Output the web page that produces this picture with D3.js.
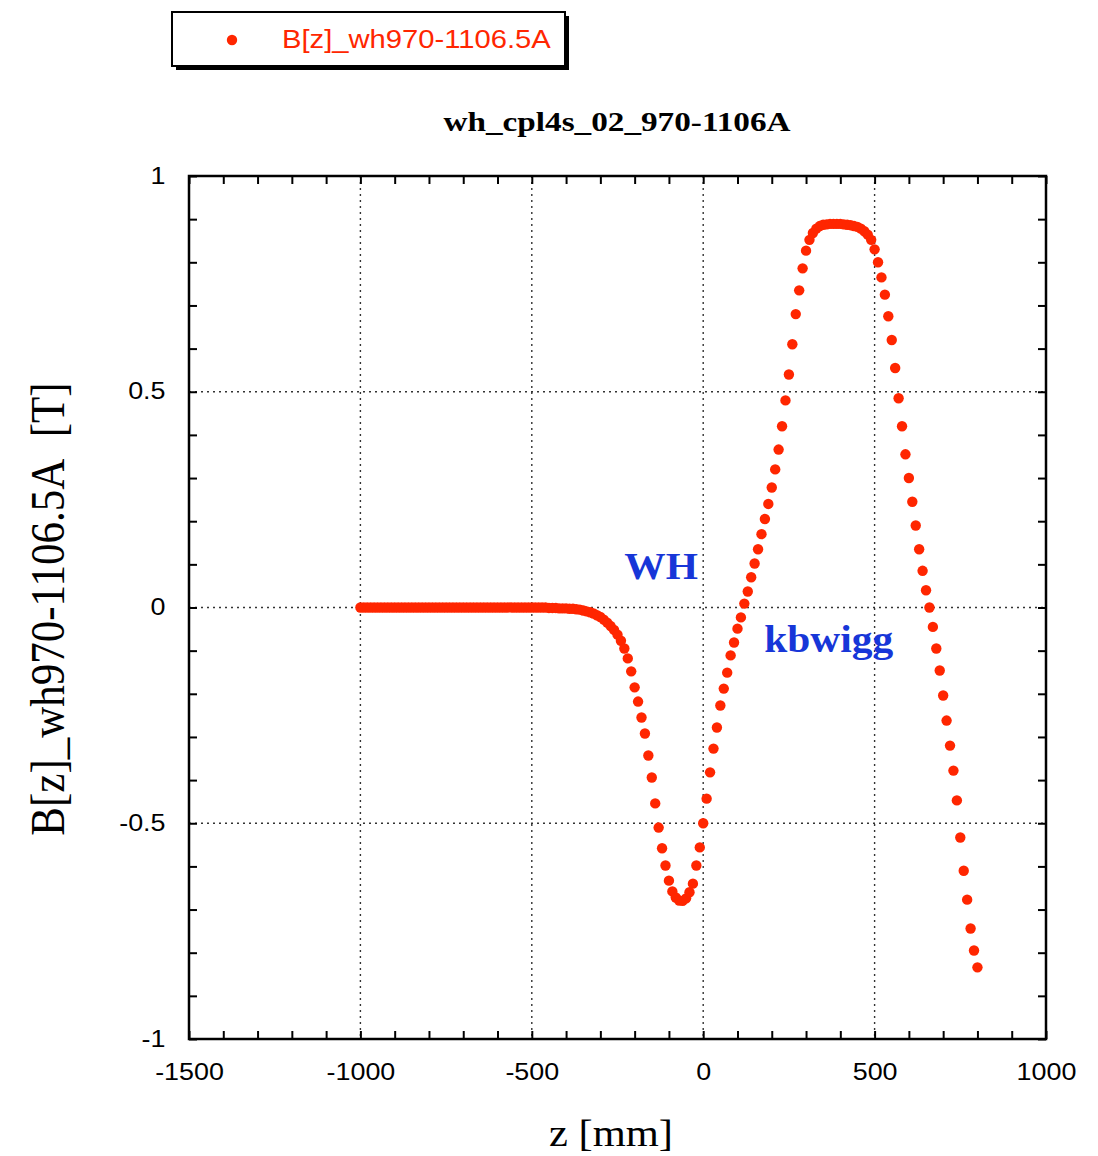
<!DOCTYPE html>
<html lang="en">
  <head>
    <meta charset="utf-8" />
    <title>wh_cpl4s_02_970-1106A</title>
    <script src="https://d3js.org/d3.v7.min.js"></script>
    <style>
      body { margin: 0; background: #fff; }
      svg { display: block; }
    </style>
  </head>
  <body>
    <div id="graph-display"></div>
    <script>
      // z positions [mm] of the measured points
      const zValues = [
        -1000, -990, -980, -970, -960, -950, -940, -930, -920, -910,
        -900, -890, -880, -870, -860, -850, -840, -830, -820, -810,
        -800, -790, -780, -770, -760, -750, -740, -730, -720, -710,
        -700, -690, -680, -670, -660, -650, -640, -630, -620, -610,
        -600, -590, -580, -570, -560, -550, -540, -530, -520, -510,
        -500, -490, -480, -470, -460, -450, -440, -430, -420, -410,
        -400, -390, -380, -370, -360, -350, -340, -330, -320, -310,
        -300, -290, -280, -270, -260, -250, -240, -230, -220, -210,
        -200, -190, -180, -170, -160, -150, -140, -130, -120, -110,
        -100, -90, -80, -70, -60, -50, -40, -30, -20, -10,
        0, 10, 20, 30, 40, 50, 60, 70, 80, 90,
        100, 110, 120, 130, 140, 150, 160, 170, 180, 190,
        200, 210, 220, 230, 240, 250, 260, 270, 280, 290,
        300, 310, 320, 330, 340, 350, 360, 370, 380, 390,
        400, 410, 420, 430, 440, 450, 460, 470, 480, 490,
        500, 510, 520, 530, 540, 550, 560, 570, 580, 590,
        600, 610, 620, 630, 640, 650, 660, 670, 680, 690,
        700, 710, 720, 730, 740, 750, 760, 770, 780, 790,
        800
      ];
      // B[z] [T]
      const bValues = [
        0, 0, 0, 0, 0, 0, 0, 0, 0, 0,
        0, 0, 0, 0, 0, 0, 0, 0, 0, 0,
        0, 0, 0, 0, 0, 0, 0, 0, 0, 0,
        0, 0, 0, 0, 0, 0, 0, 0, 0, 0,
        0, 0, 0, 0, 0, 0, 0, 0, 0, 0,
        0, 0, 0, 0, 0, -0.001, -0.001, -0.001, -0.002, -0.002,
        -0.002, -0.003, -0.003, -0.004, -0.005, -0.007, -0.009, -0.011, -0.014, -0.018,
        -0.022, -0.028, -0.035, -0.043, -0.052, -0.063, -0.077, -0.095, -0.118, -0.148,
        -0.185, -0.218, -0.255, -0.292, -0.343, -0.394, -0.454, -0.51, -0.558, -0.598,
        -0.633, -0.658, -0.672, -0.679, -0.68, -0.674, -0.66, -0.64, -0.598, -0.556,
        -0.5, -0.443, -0.382, -0.327, -0.278, -0.227, -0.188, -0.151, -0.111, -0.081,
        -0.049, -0.023, 0.009, 0.037, 0.07, 0.102, 0.135, 0.17, 0.205, 0.24,
        0.278, 0.32, 0.366, 0.42, 0.48, 0.54, 0.61, 0.68, 0.735, 0.786,
        0.827, 0.852, 0.868, 0.878, 0.884, 0.887, 0.888, 0.889, 0.889, 0.889,
        0.889, 0.888, 0.887, 0.886, 0.884, 0.882, 0.878, 0.872, 0.864, 0.852,
        0.83, 0.8, 0.765, 0.725, 0.675, 0.62, 0.555, 0.485, 0.42, 0.355,
        0.3, 0.245, 0.19, 0.135, 0.085, 0.04, 0, -0.045, -0.095, -0.146,
        -0.204, -0.262, -0.32, -0.378, -0.447, -0.533, -0.61, -0.677, -0.744, -0.795,
        -0.834
      ];
      const xMajorTicks = [-1500, -1000, -500, 0, 500, 1000];
      const xMinorTicks = [-1400, -1300, -1200, -1100, -900, -800, -700, -600, -400, -300, -200, -100,
                           100, 200, 300, 400, 600, 700, 800, 900];
      const yMajorTicks = [-1, -0.5, 0, 0.5, 1];
      const yMinorTicks = [-0.9, -0.8, -0.7, -0.6, -0.4, -0.3, -0.2, -0.1,
                           0.1, 0.2, 0.3, 0.4, 0.6, 0.7, 0.8, 0.9];
      const xGrid = [-1000, -500, 0, 500];
      const yGrid = [-0.5, 0, 0.5];

      const seriesName = "B[z]_wh970-1106.5A";
      const titleText = "wh_cpl4s_02_970-1106A";
      const xLabel = "z [mm]";
      const yLabel = "B[z]_wh970-1106.5A\u00a0\u00a0[T]";
      const notes = [["WH", -230, 0.065], ["kbwigg", 178, -0.103]];

      const width = 1098, height = 1156;
      const plotL = 189, plotR = 1046, plotT = 176, plotB = 1039;
      const stretch = 1.12; // picture is wider than tall
      const red = "#ff2600", blue = "#1736d8";

      const svg = d3.select("#graph-display").append("svg")
        .attr("width", width).attr("height", height);
      svg.append("rect").attr("width", width).attr("height", height).attr("fill", "#fff");

      const x = d3.scaleLinear().domain([-1500, 1000]).range([plotL, plotR]);
      const y = d3.scaleLinear().domain([-1, 1]).range([plotB, plotT]);

      // grid
      svg.append("g").selectAll("line").data(xGrid).join("line")
        .attr("x1", d => x(d)).attr("x2", d => x(d)).attr("y1", plotT).attr("y2", plotB)
        .attr("stroke", "#333").attr("stroke-width", 1.4).attr("stroke-dasharray", "2,4");
      svg.append("g").selectAll("line").data(yGrid).join("line")
        .attr("y1", d => y(d)).attr("y2", d => y(d)).attr("x1", plotL).attr("x2", plotR)
        .attr("stroke", "#333").attr("stroke-width", 1.4).attr("stroke-dasharray", "2,4");

      // inward ticks on all four sides
      const allX = xMajorTicks.concat(xMinorTicks), allY = yMajorTicks.concat(yMinorTicks);
      const tickAxis = (axis, tr) => {
        const g = svg.append("g").attr("transform", tr)
          .call(axis.tickSizeInner(-8).tickSizeOuter(0).tickFormat(""));
        g.select(".domain").remove();
        g.selectAll(".tick line").attr("stroke", "#000").attr("stroke-width", 2);
      };
      tickAxis(d3.axisBottom(x).tickValues(allX), `translate(0,${plotB})`);
      tickAxis(d3.axisTop(x).tickValues(allX), `translate(0,${plotT})`);
      tickAxis(d3.axisLeft(y).tickValues(allY), `translate(${plotL},0)`);
      tickAxis(d3.axisRight(y).tickValues(allY), `translate(${plotR},0)`);

      // tick labels (plain hyphen minus, as in the original)
      const xl = svg.append("g").attr("transform", `translate(0,${plotB})`)
        .call(d3.axisBottom(x).tickValues(xMajorTicks).tickSize(0).tickPadding(24).tickFormat(d => String(d)));
      xl.select(".domain").remove();
      xl.selectAll("text").attr("font-family", "Liberation Sans, Arial, sans-serif").attr("font-size", 24)
        .attr("fill", "#000").attr("transform", `scale(${stretch},1)`);
      const yl = svg.append("g").attr("transform", `translate(${plotL},0)`)
        .call(d3.axisLeft(y).tickValues(yMajorTicks).tickSize(0).tickPadding(21).tickFormat(d => String(d)));
      yl.select(".domain").remove();
      yl.selectAll("text").attr("font-family", "Liberation Sans, Arial, sans-serif").attr("font-size", 24)
        .attr("fill", "#000").attr("dy", "0.3em").attr("transform", `scale(${stretch},1)`);

      // frame
      svg.append("rect").attr("x", plotL).attr("y", plotT)
        .attr("width", plotR - plotL).attr("height", plotB - plotT)
        .attr("fill", "none").attr("stroke", "#000").attr("stroke-width", 2.5);

      // points
      svg.append("g").selectAll("circle").data(zValues.map((z, i) => [z, bValues[i]])).join("circle")
        .attr("cx", d => x(d[0])).attr("cy", d => y(d[1])).attr("r", 5.2).attr("fill", red);

      // annotations
      svg.append("g").selectAll("text").data(notes).join("text")
        .attr("transform", d => `translate(${x(d[1])},${y(d[2])}) scale(${stretch},1)`)
        .attr("font-family", "Liberation Serif, Times New Roman, serif").attr("font-weight", "bold")
        .attr("font-size", 37).attr("fill", blue).text(d => d[0]);

      // title
      svg.append("text").attr("x", 617).attr("y", 131).attr("text-anchor", "middle")
        .attr("font-family", "Liberation Serif, Times New Roman, serif").attr("font-weight", "bold")
        .attr("font-size", 27).attr("textLength", 347).attr("lengthAdjust", "spacingAndGlyphs")
        .text(titleText);

      // axis labels
      svg.append("text").attr("transform", `translate(611,1146) scale(${stretch},1)`)
        .attr("text-anchor", "middle").attr("font-family", "Liberation Serif, Times New Roman, serif")
        .attr("font-size", 38).text(xLabel);
      svg.append("text").attr("transform", `translate(64,609) scale(${stretch},1) rotate(-90)`)
        .attr("text-anchor", "middle").attr("font-family", "Liberation Serif, Times New Roman, serif")
        .attr("font-size", 43).text(yLabel);

      // legend
      const lg = svg.append("g");
      lg.append("rect").attr("x", 176).attr("y", 16).attr("width", 393).attr("height", 54).attr("fill", "#000");
      lg.append("rect").attr("x", 172).attr("y", 12).attr("width", 393).attr("height", 54)
        .attr("fill", "#fff").attr("stroke", "#000").attr("stroke-width", 2);
      lg.append("circle").attr("cx", 232).attr("cy", 40).attr("r", 5.2).attr("fill", red);
      lg.append("text").attr("transform", `translate(282,48) scale(${stretch},1)`)
        .attr("font-family", "Liberation Sans, Arial, sans-serif").attr("font-size", 25)
        .attr("textLength", 240).attr("lengthAdjust", "spacingAndGlyphs")
        .attr("fill", red).text(seriesName);
    </script>
  </body>
</html>
